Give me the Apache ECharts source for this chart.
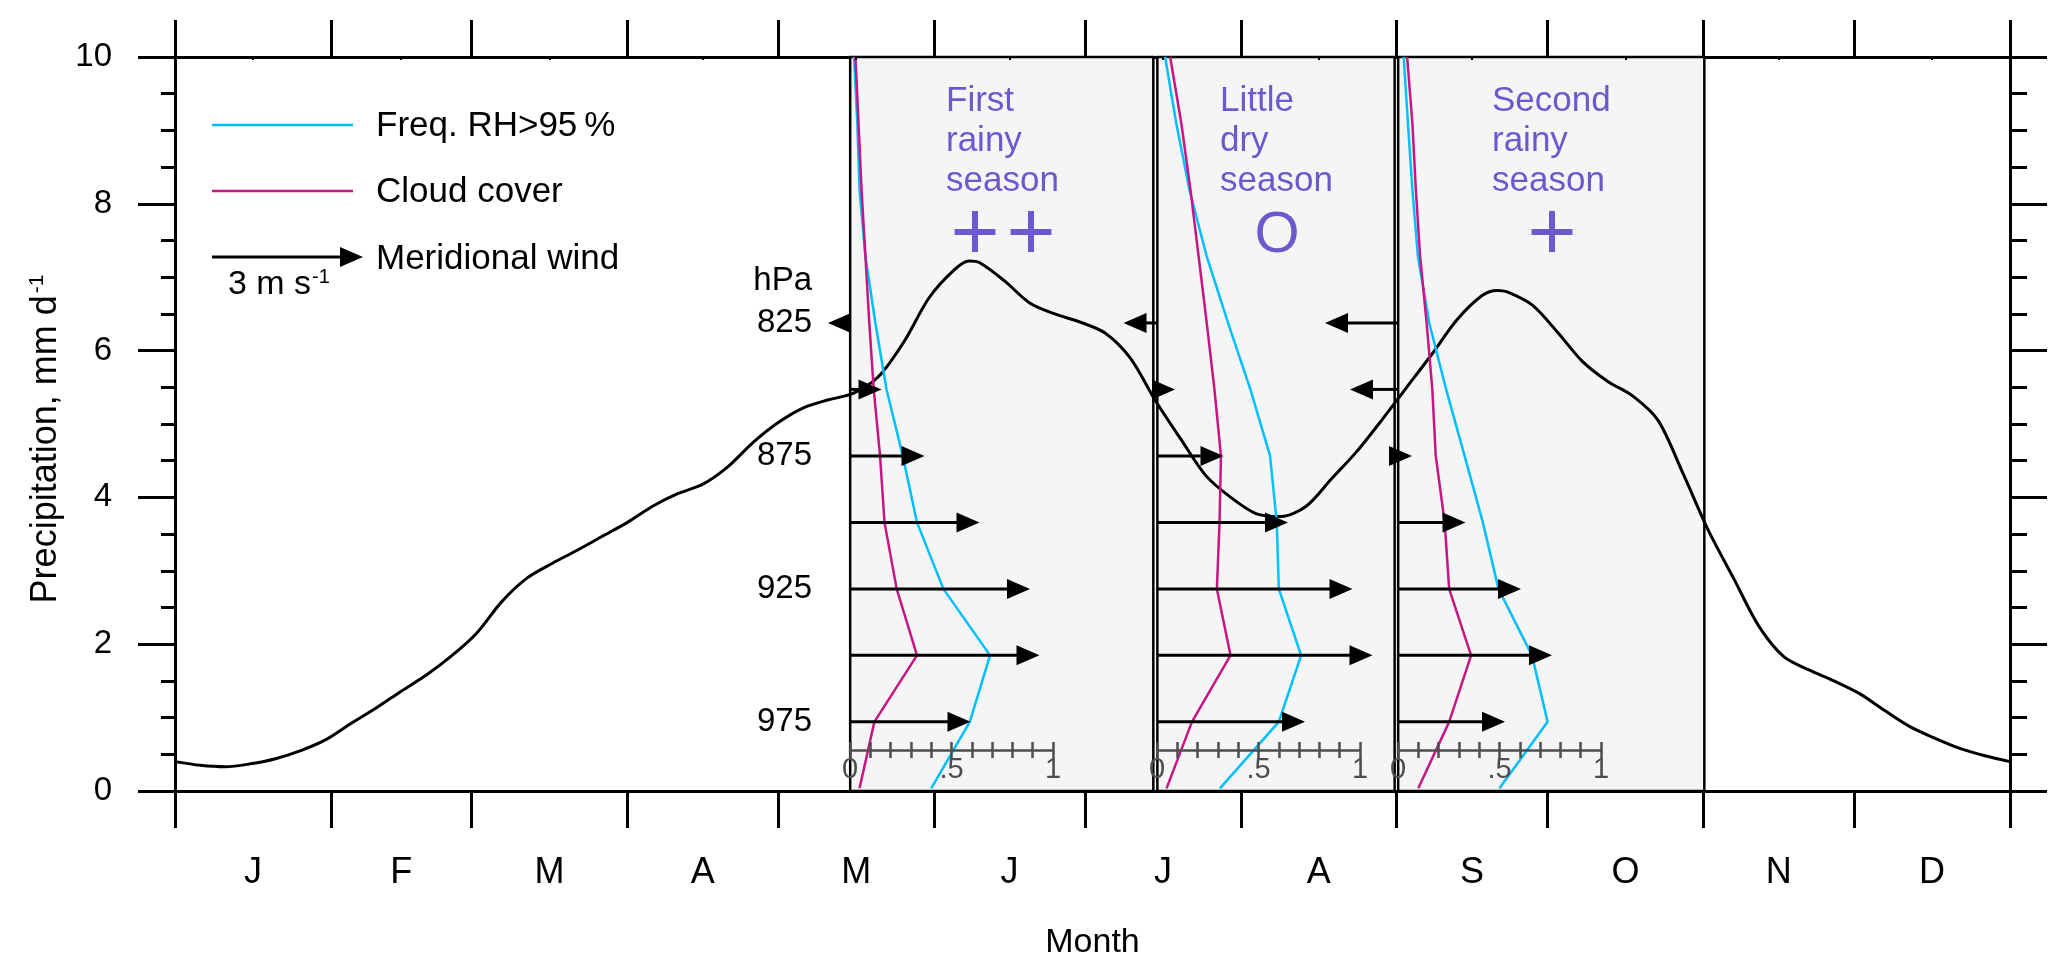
<!DOCTYPE html>
<html>
<head>
<meta charset="utf-8">
<title>Precipitation and seasons</title>
<script src="https://cdn.jsdelivr.net/npm/echarts@6/dist/echarts.min.js"></script>
<style>
    html, body { margin: 0; padding: 0; background: #fff; }
    #container { width: 2067px; height: 971px; }
</style>
</head>
<body>
<div id="container"></div>
<script>
// precipitation climatology, day of year -> mm/d
var precipDays = [0, 5, 10, 15, 20, 25, 30, 35, 40, 45, 50, 55, 60, 65, 70, 75, 80, 85, 90, 95,
    100, 105, 110, 115, 120, 125, 130, 135, 140, 145, 150, 155, 158, 160, 165, 170, 175, 180, 185, 190,
    195, 200, 205, 210, 215, 220, 225, 230, 235, 240, 245, 250, 255, 260, 263, 265, 270, 275, 280, 285,
    290, 295, 300, 305, 310, 315, 320, 325, 330, 335, 340, 345, 350, 355, 360, 365];
var precipValues = [0.40, 0.35, 0.33, 0.37, 0.44, 0.55, 0.70, 0.92, 1.13, 1.36, 1.58, 1.84, 2.15, 2.58, 2.90, 3.10, 3.28, 3.47, 3.66, 3.88,
    4.05, 4.18, 4.42, 4.75, 5.02, 5.22, 5.33, 5.42, 5.65, 6.12, 6.72, 7.10, 7.22, 7.20, 6.95, 6.65, 6.50, 6.39, 6.24, 5.90,
    5.32, 4.80, 4.30, 4.00, 3.78, 3.74, 3.88, 4.25, 4.62, 5.05, 5.50, 5.95, 6.42, 6.75, 6.82, 6.80, 6.62, 6.25, 5.85, 5.58,
    5.38, 5.05, 4.32, 3.55, 2.90, 2.25, 1.83, 1.65, 1.50, 1.33, 1.10, 0.88, 0.72, 0.58, 0.48, 0.40];

var monthStarts = [0, 31, 59, 90, 120, 151, 181, 212, 243, 273, 304, 334, 365];
var monthMids = [15.5, 45, 74.5, 105, 135.5, 166, 196.5, 227.5, 258, 288.5, 319, 349.5];
var monthLetters = ['J', 'F', 'M', 'A', 'M', 'J', 'J', 'A', 'S', 'O', 'N', 'D'];

// seasons (day of year)
var seasonStart = [134.3, 195.4, 243.3];
var seasonEnd = [194.6, 242.6, 304.2];

// vertical profiles (hPa), fraction 0..1
var profileLevels = [1000, 975, 950, 925, 900, 875, 850, 825, 800, 775, 750, 725];
var rhFirst = [0.40, 0.59, 0.69, 0.46, 0.33, 0.26, 0.18, 0.125, 0.076, 0.047, 0.036, 0.02];
var cloudFirst = [0.047, 0.12, 0.33, 0.23, 0.17, 0.148, 0.117, 0.095, 0.076, 0.057, 0.042, 0.027];
var rhDry = [0.31, 0.60, 0.71, 0.60, 0.59, 0.557, 0.46, 0.35, 0.245, 0.16, 0.095, 0.04];
var cloudDry = [0.047, 0.172, 0.362, 0.295, 0.308, 0.315, 0.283, 0.245, 0.205, 0.165, 0.12, 0.065];
var rhSecond = [0.50, 0.737, 0.66, 0.495, 0.418, 0.328, 0.237, 0.154, 0.098, 0.071, 0.049, 0.028];
var cloudSecond = [0.10, 0.252, 0.36, 0.252, 0.23, 0.186, 0.169, 0.141, 0.109, 0.088, 0.071, 0.045];

// meridional wind, m/s
var windLevels = [975, 950, 925, 900, 875, 850, 825];
var windFirst = [2.41, 3.79, 3.60, 2.59, 1.49, 0.63, -0.44];
var windDry = [2.96, 4.31, 3.91, 2.62, 1.33, 0.36, -0.67];
var windSecond = [2.14, 3.08, 2.46, 1.35, 0.28, -0.96, -1.46];

var pressureTicks = [825, 875, 925, 975];

var FONT = "'Liberation Sans', Arial, Helvetica, sans-serif";
var CYAN = '#00BFFF';
var MAGENTA = '#C71585';
var PURPLE = '#6A5ACD';
var INSET_LEFT = [850, 1157, 1398];
var INSET_WIDTH = 203;
var windScale = 50 / INSET_WIDTH; // 3 m/s = 150 px

var chart = echarts.init(document.getElementById('container'), null, { renderer: 'canvas' });

function renderSeason(params, api) {
    var a = api.coord([api.value(0), 10]);
    var b = api.coord([api.value(1), 0]);
    return {
        type: 'rect',
        shape: { x: a[0], y: a[1], width: b[0] - a[0], height: b[1] - a[1] },
        style: { fill: '#f5f5f5', stroke: '#000', lineWidth: 2.5 }
    };
}

function renderArrow(params, api) {
    var w = api.value(0), p = api.value(1);
    var start = api.coord([0, p]);
    var tip = api.coord([w * windScale, p]);
    var dir = tip[0] >= start[0] ? 1 : -1;
    var headLen = 23, headHalf = 10;
    var base = tip[0] - dir * headLen;
    var children = [];
    if ((tip[0] - start[0]) * dir > headLen) {
        children.push({
            type: 'line',
            shape: { x1: start[0], y1: start[1], x2: base + dir, y2: start[1] },
            style: { stroke: '#000', lineWidth: 3 }
        });
    }
    children.push({
        type: 'polygon',
        shape: { points: [[tip[0], tip[1]], [base, tip[1] - headHalf], [base, tip[1] + headHalf]] },
        style: { fill: '#000' }
    });
    return { type: 'group', children: children };
}

function zip(xs, ys) {
    return xs.map(function (x, i) { return [x, ys[i]]; });
}

var grids = [{ left: 175, right: 57, top: 57, bottom: 180 }];
INSET_LEFT.forEach(function (l) {
    grids.push({ left: l, width: INSET_WIDTH, top: 57, bottom: 180 });
});

var blackLine = { color: '#000', width: 3 };

var xAxes = [
    {
        gridIndex: 0, type: 'value', position: 'bottom', min: 0, max: 365,
        axisLine: { onZero: false, lineStyle: blackLine },
        axisTick: { customValues: monthStarts, length: 37, lineStyle: blackLine },
        axisLabel: {
            customValues: monthMids, margin: 64, fontSize: 36, fontFamily: FONT, color: '#000',
            formatter: function (v) { return monthLetters[monthMids.indexOf(v)]; }
        },
        splitLine: { show: false },
        name: 'Month', nameLocation: 'middle', nameGap: 135,
        nameTextStyle: { fontSize: 34, fontFamily: FONT, color: '#000' }
    },
    {
        gridIndex: 0, type: 'value', position: 'top', min: 0, max: 365,
        axisLine: { onZero: false, lineStyle: blackLine },
        axisTick: { customValues: monthStarts, length: 37, lineStyle: blackLine },
        axisLabel: { show: false }, splitLine: { show: false }
    },
    {
        gridIndex: 0, type: 'value', position: 'top', min: 0, max: 365, z: 10,
        axisLine: { show: false, onZero: false },
        axisTick: { customValues: monthMids, inside: true, length: 3, lineStyle: { color: '#000', width: 2 } },
        axisLabel: { show: false }, splitLine: { show: false }
    }
];

var yAxes = [
    {
        gridIndex: 0, type: 'value', position: 'left', min: 0, max: 10, interval: 2,
        axisLine: { show: true, onZero: false, lineStyle: blackLine },
        axisTick: { show: true, length: 37, lineStyle: blackLine },
        minorTick: { show: true, splitNumber: 4, length: 14, lineStyle: blackLine },
        axisLabel: { margin: 63, fontSize: 33, fontFamily: FONT, color: '#000' },
        splitLine: { show: false },
        name: '{a|Precipitation, mm d}{s|-1}', nameLocation: 'middle', nameGap: 100,
        nameTextStyle: {
            padding: [0, 30, 0, 0],
            rich: {
                a: { fontSize: 36, fontFamily: FONT, color: '#000', lineHeight: 44 },
                s: { fontSize: 21, fontFamily: FONT, color: '#000', lineHeight: 44, verticalAlign: 'top', padding: [2, 0, 0, 2] }
            }
        }
    },
    {
        gridIndex: 0, type: 'value', position: 'right', min: 0, max: 10, interval: 2,
        axisLine: { show: true, onZero: false, lineStyle: blackLine },
        axisTick: { show: true, length: 37, lineStyle: blackLine },
        minorTick: { show: true, splitNumber: 4, length: 17, lineStyle: blackLine },
        axisLabel: { show: false }, splitLine: { show: false }
    }
];

var series = [
    {
        type: 'custom', name: 'seasons', xAxisIndex: 0, yAxisIndex: 0, z: 1, silent: true,
        renderItem: renderSeason, encode: { x: [0, 1] },
        data: zip(seasonStart, seasonEnd)
    },
    {
        type: 'line', name: 'Precipitation', xAxisIndex: 0, yAxisIndex: 0, z: 3,
        data: zip(precipDays, precipValues), smooth: 0.3, showSymbol: false,
        lineStyle: { color: '#000', width: 3 }
    }
];

var panels = [
    { rh: rhFirst, cloud: cloudFirst, wind: windFirst },
    { rh: rhDry, cloud: cloudDry, wind: windDry },
    { rh: rhSecond, cloud: cloudSecond, wind: windSecond }
];

panels.forEach(function (pan, k) {
    var g = k + 1;
    var xa = xAxes.length;
    var ya = yAxes.length;
    xAxes.push({
        gridIndex: g, type: 'value', position: 'bottom', min: 0, max: 1, interval: 0.1, offset: -41, z: 10,
        axisLine: { onZero: false, lineStyle: { color: '#4d4d4d', width: 2.5 } },
        axisTick: { length: 8, lineStyle: { color: '#4d4d4d', width: 2.5 } },
        axisLabel: {
            customValues: [0, 0.5, 1], margin: 5, fontSize: 29, fontFamily: FONT, color: '#4d4d4d',
            formatter: function (v) { return v === 0.5 ? '.5' : String(v); }
        },
        splitLine: { show: false }
    });
    xAxes.push({
        gridIndex: g, type: 'value', position: 'bottom', min: 0, max: 1, interval: 0.1, offset: -41, z: 10,
        axisLine: { show: false, onZero: false },
        axisTick: { inside: true, length: 8, lineStyle: { color: '#4d4d4d', width: 2.5 } },
        axisLabel: { show: false }, splitLine: { show: false }
    });
    yAxes.push({
        gridIndex: g, type: 'value', min: 725, max: 1001, inverse: true, z: 10,
        axisLine: { show: false, onZero: false }, axisTick: { show: false }, splitLine: { show: false },
        axisLabel: k === 0 ? {
            customValues: pressureTicks, margin: 38, fontSize: 33, fontFamily: FONT, color: '#000'
        } : { show: false }
    });
    series.push({
        type: 'line', name: 'Freq. RH>95 %', xAxisIndex: xa, yAxisIndex: ya, z: 4,
        data: zip(pan.rh, profileLevels), showSymbol: false,
        lineStyle: { color: CYAN, width: 2.5 }
    });
    series.push({
        type: 'line', name: 'Cloud cover', xAxisIndex: xa, yAxisIndex: ya, z: 4,
        data: zip(pan.cloud, profileLevels), showSymbol: false,
        lineStyle: { color: MAGENTA, width: 2.5 }
    });
    series.push({
        type: 'custom', name: 'Meridional wind', xAxisIndex: xa, yAxisIndex: ya, z: 5, clip: false,
        renderItem: renderArrow,
        data: zip(pan.wind, windLevels)
    });
});

var seasonLabels = ['First\nrainy\nseason', 'Little\ndry\nseason', 'Second\nrainy\nseason'];
var seasonLabelX = [946, 1220, 1492];

var graphic = [
    { type: 'line', shape: { x1: 212, y1: 125, x2: 353, y2: 125 }, style: { stroke: CYAN, lineWidth: 2.5 } },
    { type: 'text', x: 376, y: 126, style: { text: 'Freq. RH>95\u2009%', fontSize: 35, fontFamily: FONT, fill: '#000', verticalAlign: 'middle' } },
    { type: 'line', shape: { x1: 212, y1: 191, x2: 353, y2: 191 }, style: { stroke: MAGENTA, lineWidth: 2.5 } },
    { type: 'text', x: 376, y: 192, style: { text: 'Cloud cover', fontSize: 35, fontFamily: FONT, fill: '#000', verticalAlign: 'middle' } },
    { type: 'line', shape: { x1: 212, y1: 257, x2: 341, y2: 257 }, style: { stroke: '#000', lineWidth: 3 } },
    { type: 'polygon', shape: { points: [[363, 257], [340, 247], [340, 267]] }, style: { fill: '#000' } },
    { type: 'text', x: 376, y: 259, style: { text: 'Meridional wind', fontSize: 35, fontFamily: FONT, fill: '#000', verticalAlign: 'middle' } },
    {
        type: 'text', x: 228, y: 285,
        style: {
            text: '{a|3 m s}{s|-1}', verticalAlign: 'middle',
            rich: {
                a: { fontSize: 34, fontFamily: FONT, fill: '#000', lineHeight: 40 },
                s: { fontSize: 20, fontFamily: FONT, fill: '#000', lineHeight: 40, verticalAlign: 'top', padding: [2, 0, 0, 1] }
            }
        }
    },
    { type: 'text', x: 812, y: 281, style: { text: 'hPa', fontSize: 33, fontFamily: FONT, fill: '#000', align: 'right', verticalAlign: 'middle' } },
    { type: 'text', x: 975, y: 236, z: 20, style: { text: '+', fontSize: 84, fontFamily: FONT, fill: PURPLE, align: 'center', verticalAlign: 'middle' } },
    { type: 'text', x: 1031, y: 236, z: 20, style: { text: '+', fontSize: 84, fontFamily: FONT, fill: PURPLE, align: 'center', verticalAlign: 'middle' } },
    { type: 'text', x: 1277, y: 236, z: 20, style: { text: 'O', fontSize: 58, fontFamily: FONT, fill: PURPLE, align: 'center', verticalAlign: 'middle' } },
    { type: 'text', x: 1552, y: 236, z: 20, style: { text: '+', fontSize: 84, fontFamily: FONT, fill: PURPLE, align: 'center', verticalAlign: 'middle' } }
];
seasonLabels.forEach(function (t, i) {
    graphic.push({
        type: 'text', x: seasonLabelX[i], y: 81, z: 20,
        style: { text: t, fontSize: 35, lineHeight: 40, fontFamily: FONT, fill: PURPLE, verticalAlign: 'top' }
    });
});

var option = {
    backgroundColor: '#fff',
    animation: false,
    grid: grids,
    xAxis: xAxes,
    yAxis: yAxes,
    series: series,
    graphic: graphic
};

chart.setOption(option);
</script>
</body>
</html>
